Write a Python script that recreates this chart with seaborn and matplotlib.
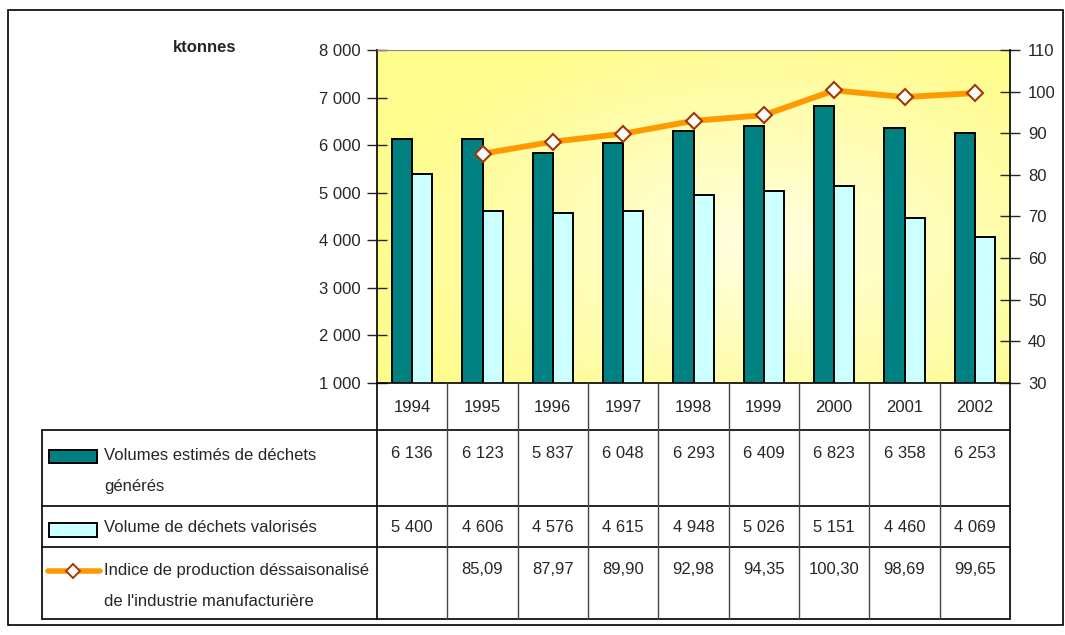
import numpy as np
import pandas as pd
import matplotlib
matplotlib.use("Agg")
import matplotlib.pyplot as plt
from matplotlib.patches import Rectangle
from matplotlib.lines import Line2D
import seaborn as sns

years = ["1994", "1995", "1996", "1997", "1998", "1999", "2000", "2001", "2002"]
generated = [6136, 6123, 5837, 6048, 6293, 6409, 6823, 6358, 6253]
recovered = [5400, 4606, 4576, 4615, 4948, 5026, 5151, 4460, 4069]
prod_index = [np.nan, 85.09, 87.97, 89.90, 92.98, 94.35, 100.30, 98.69, 99.65]
series_names = ["Volumes estimés de déchets\ngénérés",
                "Volume de déchets valorisés",
                "Indice de production déssaisonalisé\nde l'industrie manufacturière"]
left_ticks = [1000, 2000, 3000, 4000, 5000, 6000, 7000, 8000]
right_ticks = [30, 40, 50, 60, 70, 80, 90, 100, 110]

sns.set_style("white")
plt.rcParams["font.family"] = ["Liberation Sans", "DejaVu Sans"]
FS = 12

W, H = 1065, 635
fig = plt.figure(figsize=(W / 100, H / 100), dpi=100)

def fx(px):
    return px / W

def fy(py):
    return 1 - py / H

x0, x1, ytop, ybot = 377, 1010, 50, 383
ax = fig.add_axes([fx(x0), fy(ybot), fx(x1) - fx(x0), fy(ytop) - fy(ybot)])

# gradient background
gx, gy = np.meshgrid(np.linspace(0, 1, 300), np.linspace(0, 1, 200))
d = np.sqrt(((gx - 0.6) / 0.6) ** 2 + ((gy - 0.42) / 0.65) ** 2)
t = np.clip(d, 0, 1) ** 0.9
c_in = np.array([1.0, 1.0, 0.90])
c_out = np.array([1.0, 0.99, 0.56])
img = c_in[None, None, :] * (1 - t[..., None]) + c_out[None, None, :] * t[..., None]
ax.imshow(img, extent=[0, 1, 0, 1], transform=ax.transAxes, aspect="auto", zorder=0, origin="lower")

df = pd.DataFrame({
    "year": years * 2,
    "series": [series_names[0]] * len(years) + [series_names[1]] * len(years),
    "value": generated + recovered,
})
sns.barplot(data=df, x="year", y="value", hue="series", order=years,
            hue_order=series_names[:2], palette=["#008080", "#CCFFFF"],
            width=0.57, edgecolor="black", linewidth=1.4, saturation=1,
            ax=ax, legend=False, zorder=2)
ax.set_xlim(-0.5, len(years) - 0.5)
ax.set_ylim(left_ticks[0], left_ticks[-1])
ax.set_yticks(left_ticks)
ax.set_yticklabels([f"{v:,}".replace(",", " ") for v in left_ticks], fontsize=FS)
ax.set_xticks([])
ax.set_xlabel("")
ax.set_ylabel("")
ax.tick_params(axis="y", direction="inout", length=14, width=1, pad=5, left=True)
for s in ["left", "bottom"]:
    ax.spines[s].set_color("black")
    ax.spines[s].set_linewidth(1.2)
ax.spines["top"].set_color("#888888")
ax.spines["right"].set_visible(False)

ax2 = ax.twinx()
xs = np.arange(len(years))
sns.lineplot(x=xs, y=prod_index, ax=ax2, color="#FF9900", linewidth=4.2,
             marker="D", markersize=8, markerfacecolor="white",
             markeredgecolor="#A0360A", markeredgewidth=1.5, zorder=5)
ax2.set_ylim(right_ticks[0], right_ticks[-1])
ax2.set_yticks(right_ticks)
ax2.set_yticklabels([str(v) for v in right_ticks], fontsize=FS)
ax2.tick_params(axis="y", direction="inout", length=14, width=1, pad=6, right=True)
for s in ["left", "top", "bottom"]:
    ax2.spines[s].set_visible(False)
ax2.spines["right"].set_color("black")
ax2.spines["right"].set_linewidth(1.2)
ax2.set_xlim(-0.5, len(years) - 0.5)

# ---- data table below ----
def hline(y, xa, xb, color="black", lw=1.2):
    fig.add_artist(Line2D([fx(xa), fx(xb)], [fy(y), fy(y)], color=color, lw=lw))

def vline(x, ya, yb, color="black", lw=1.2):
    fig.add_artist(Line2D([fx(x), fx(x)], [fy(ya), fy(yb)], color=color, lw=lw))

tl = 42
rows = [430, 506, 547, 619]
colw = (x1 - x0) / len(years)
for yv in rows:
    hline(yv, tl, x1)
vline(tl, rows[0], rows[-1])
for i in range(len(years) + 1):
    edge = i in (0, len(years))
    vline(x0 + i * colw, ybot, rows[-1], color="black" if edge else "#444444",
          lw=1.2 if edge else 1.0)

for i, yr in enumerate(years):
    fig.text(fx(x0 + (i + 0.5) * colw), fy(407), yr, ha="center", va="center", fontsize=FS)

def fmt_int(v):
    return f"{v:,}".replace(",", " ")

def fmt_dec(v):
    return "" if np.isnan(v) else f"{v:.2f}".replace(".", ",")

for i in range(len(years)):
    cx = fx(x0 + (i + 0.5) * colw)
    fig.text(cx, fy(454), fmt_int(generated[i]), ha="center", va="center", fontsize=FS)
    fig.text(cx, fy(527), fmt_int(recovered[i]), ha="center", va="center", fontsize=FS)
    fig.text(cx, fy(570), fmt_dec(prod_index[i]), ha="center", va="center", fontsize=FS)

# legend keys
fig.add_artist(Rectangle((fx(49), fy(463)), fx(97) - fx(49), fy(450) - fy(463),
                         facecolor="#008080", edgecolor="black", lw=1.4))
fig.add_artist(Rectangle((fx(49), fy(537)), fx(97) - fx(49), fy(523) - fy(537),
                         facecolor="#CCFFFF", edgecolor="black", lw=1.4))
fig.add_artist(Line2D([fx(48), fx(100)], [fy(571), fy(571)], color="#FF9900", lw=4))
fig.add_artist(Line2D([fx(73)], [fy(571)], marker="D", markersize=7, markerfacecolor="white",
                      markeredgecolor="#A0360A", markeredgewidth=1.4, lw=0))

for lab, ymid in zip(series_names, [455, 527, 570]):
    for j, p in enumerate(lab.split("\n")):
        fig.text(fx(104), fy(ymid + j * 32), p, ha="left", va="center", fontsize=FS)

fig.text(fx(205), fy(47), "ktonnes", ha="center", va="center", fontsize=FS, fontweight="bold")

# outer frame
fig.add_artist(Rectangle((fx(8), fy(625)), fx(1063) - fx(8), fy(10) - fy(625),
                         fill=False, edgecolor="black", lw=1.2))

fig.savefig("out.png", dpi=100)
